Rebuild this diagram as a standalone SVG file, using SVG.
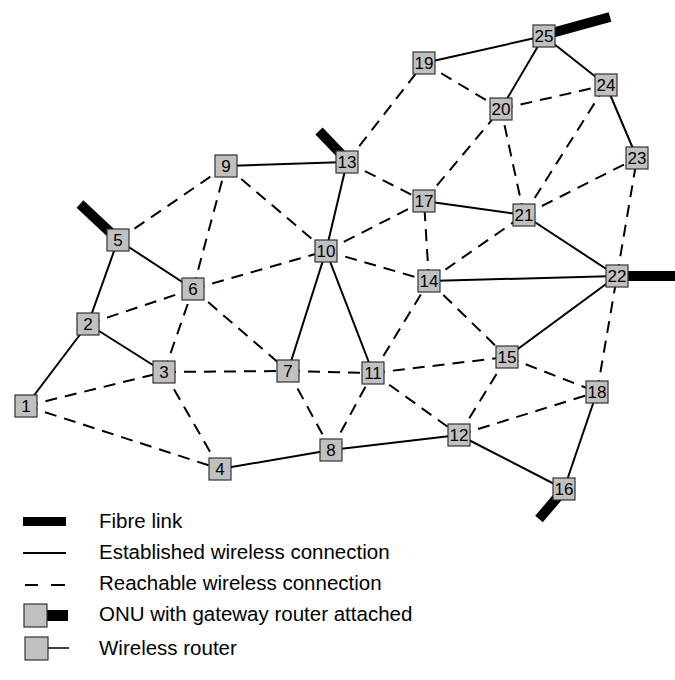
<svg xmlns="http://www.w3.org/2000/svg" width="675" height="680" viewBox="0 0 675 680">
  <style>
    .solid { stroke: #000; stroke-width: 2; fill: none; }
    .dash { stroke: #000; stroke-width: 2; fill: none; stroke-dasharray: 12 8; }
    .fibre { stroke: #000; stroke-width: 10; fill: none; stroke-linecap: butt; }
    .box { fill: #c0c0c0; stroke: #333; stroke-width: 1.2; }
    .lbl { font-family: "Liberation Sans", Arial, sans-serif; font-size: 17px; fill: #000; text-anchor: middle; }
    .leg { font-family: "Liberation Sans", Arial, sans-serif; font-size: 20.5px; fill: #000; }
  </style>
  <rect width="675" height="680" fill="#fff"/>

  <!-- fibre links to the ONUs -->
  <g id="fibre-links">
    <line class="fibre" x1="80" y1="204" x2="112" y2="234"/>
    <line class="fibre" x1="319" y1="131" x2="343" y2="156"/>
    <line class="fibre" x1="548" y1="34" x2="610" y2="17"/>
    <line class="fibre" x1="620" y1="276" x2="675" y2="276"/>
    <line class="fibre" x1="562" y1="492" x2="539" y2="519"/>
  </g>

  <!-- wireless connections -->
  <g id="connectors">
    <!-- established -->
    <line class="solid" x1="26" y1="406" x2="88" y2="324"/>
    <line class="solid" x1="88" y1="324" x2="118" y2="240"/>
    <line class="solid" x1="88" y1="324" x2="164" y2="372"/>
    <line class="solid" x1="118" y1="240" x2="193" y2="289"/>
    <line class="solid" x1="226" y1="166" x2="347" y2="162"/>
    <line class="solid" x1="347" y1="162" x2="326" y2="251"/>
    <line class="solid" x1="326" y1="251" x2="288" y2="371"/>
    <line class="solid" x1="326" y1="251" x2="373" y2="373"/>
    <line class="solid" x1="220" y1="469" x2="331" y2="450"/>
    <line class="solid" x1="331" y1="450" x2="459" y2="435"/>
    <line class="solid" x1="459" y1="435" x2="564" y2="489"/>
    <line class="solid" x1="564" y1="489" x2="597" y2="392"/>
    <line class="solid" x1="507" y1="357" x2="617" y2="276"/>
    <line class="solid" x1="429" y1="281" x2="617" y2="276"/>
    <line class="solid" x1="424" y1="201" x2="524" y2="215"/>
    <line class="solid" x1="524" y1="215" x2="617" y2="276"/>
    <line class="solid" x1="424" y1="63" x2="544" y2="36"/>
    <line class="solid" x1="544" y1="36" x2="501" y2="109"/>
    <line class="solid" x1="544" y1="36" x2="606" y2="85"/>
    <line class="solid" x1="606" y1="85" x2="637" y2="158"/>
    <!-- reachable -->
    <line class="dash" x1="26" y1="406" x2="164" y2="372"/>
    <line class="dash" x1="26" y1="406" x2="220" y2="469"/>
    <line class="dash" x1="164" y1="372" x2="220" y2="469"/>
    <line class="dash" x1="164" y1="372" x2="193" y2="289"/>
    <line class="dash" x1="164" y1="372" x2="288" y2="371"/>
    <line class="dash" x1="88" y1="324" x2="193" y2="289"/>
    <line class="dash" x1="193" y1="289" x2="326" y2="251"/>
    <line class="dash" x1="193" y1="289" x2="226" y2="166"/>
    <line class="dash" x1="193" y1="289" x2="288" y2="371"/>
    <line class="dash" x1="118" y1="240" x2="226" y2="166"/>
    <line class="dash" x1="226" y1="166" x2="326" y2="251"/>
    <line class="dash" x1="288" y1="371" x2="373" y2="373"/>
    <line class="dash" x1="288" y1="371" x2="331" y2="450"/>
    <line class="dash" x1="331" y1="450" x2="373" y2="373"/>
    <line class="dash" x1="373" y1="373" x2="429" y2="281"/>
    <line class="dash" x1="373" y1="373" x2="507" y2="357"/>
    <line class="dash" x1="373" y1="373" x2="459" y2="435"/>
    <line class="dash" x1="326" y1="251" x2="429" y2="281"/>
    <line class="dash" x1="326" y1="251" x2="424" y2="201"/>
    <line class="dash" x1="347" y1="162" x2="424" y2="201"/>
    <line class="dash" x1="347" y1="162" x2="424" y2="63"/>
    <line class="dash" x1="429" y1="281" x2="424" y2="201"/>
    <line class="dash" x1="429" y1="281" x2="524" y2="215"/>
    <line class="dash" x1="429" y1="281" x2="507" y2="357"/>
    <line class="dash" x1="507" y1="357" x2="459" y2="435"/>
    <line class="dash" x1="507" y1="357" x2="597" y2="392"/>
    <line class="dash" x1="459" y1="435" x2="597" y2="392"/>
    <line class="dash" x1="597" y1="392" x2="617" y2="276"/>
    <line class="dash" x1="617" y1="276" x2="637" y2="158"/>
    <line class="dash" x1="524" y1="215" x2="637" y2="158"/>
    <line class="dash" x1="524" y1="215" x2="606" y2="85"/>
    <line class="dash" x1="524" y1="215" x2="501" y2="109"/>
    <line class="dash" x1="424" y1="201" x2="501" y2="109"/>
    <line class="dash" x1="501" y1="109" x2="606" y2="85"/>
    <line class="dash" x1="424" y1="63" x2="501" y2="109"/>
  </g>

  <!-- routers -->
  <g id="n1"><rect class="box" x="15" y="395" width="22" height="22"/><text class="lbl" x="26" y="412">1</text></g>
  <g id="n2"><rect class="box" x="77" y="313" width="22" height="22"/><text class="lbl" x="88" y="330">2</text></g>
  <g id="n3"><rect class="box" x="153" y="361" width="22" height="22"/><text class="lbl" x="164" y="378">3</text></g>
  <g id="n4"><rect class="box" x="209" y="458" width="22" height="22"/><text class="lbl" x="220" y="475">4</text></g>
  <g id="n5"><rect class="box" x="107" y="229" width="22" height="22"/><text class="lbl" x="118" y="246">5</text></g>
  <g id="n6"><rect class="box" x="182" y="278" width="22" height="22"/><text class="lbl" x="193" y="295">6</text></g>
  <g id="n7"><rect class="box" x="277" y="360" width="22" height="22"/><text class="lbl" x="288" y="377">7</text></g>
  <g id="n8"><rect class="box" x="320" y="439" width="22" height="22"/><text class="lbl" x="331" y="456">8</text></g>
  <g id="n9"><rect class="box" x="215" y="155" width="22" height="22"/><text class="lbl" x="226" y="172">9</text></g>
  <g id="n10"><rect class="box" x="315" y="240" width="22" height="22"/><text class="lbl" x="326" y="257">10</text></g>
  <g id="n11"><rect class="box" x="362" y="362" width="22" height="22"/><text class="lbl" x="373" y="379">11</text></g>
  <g id="n12"><rect class="box" x="448" y="424" width="22" height="22"/><text class="lbl" x="459" y="441">12</text></g>
  <g id="n13"><rect class="box" x="336" y="151" width="22" height="22"/><text class="lbl" x="347" y="168">13</text></g>
  <g id="n14"><rect class="box" x="418" y="270" width="22" height="22"/><text class="lbl" x="429" y="287">14</text></g>
  <g id="n15"><rect class="box" x="496" y="346" width="22" height="22"/><text class="lbl" x="507" y="363">15</text></g>
  <g id="n16"><rect class="box" x="553" y="478" width="22" height="22"/><text class="lbl" x="564" y="495">16</text></g>
  <g id="n17"><rect class="box" x="413" y="190" width="22" height="22"/><text class="lbl" x="424" y="207">17</text></g>
  <g id="n18"><rect class="box" x="586" y="381" width="22" height="22"/><text class="lbl" x="597" y="398">18</text></g>
  <g id="n19"><rect class="box" x="413" y="52" width="22" height="22"/><text class="lbl" x="424" y="69">19</text></g>
  <g id="n20"><rect class="box" x="490" y="98" width="22" height="22"/><text class="lbl" x="501" y="115">20</text></g>
  <g id="n21"><rect class="box" x="513" y="204" width="22" height="22"/><text class="lbl" x="524" y="221">21</text></g>
  <g id="n22"><rect class="box" x="606" y="265" width="22" height="22"/><text class="lbl" x="617" y="282">22</text></g>
  <g id="n23"><rect class="box" x="626" y="147" width="22" height="22"/><text class="lbl" x="637" y="164">23</text></g>
  <g id="n24"><rect class="box" x="595" y="74" width="22" height="22"/><text class="lbl" x="606" y="91">24</text></g>
  <g id="n25"><rect class="box" x="533" y="25" width="22" height="22"/><text class="lbl" x="544" y="42">25</text></g>

  <!-- legend -->
  <g id="legend">
    <rect x="23" y="517" width="43" height="9" fill="#000"/>
    <text class="leg" x="99" y="528">Fibre link</text>
    <line class="solid" x1="23" y1="553" x2="66" y2="553"/>
    <text class="leg" x="99" y="559">Established wireless connection</text>
    <line x1="25" y1="585" x2="38" y2="585" stroke="#000" stroke-width="2"/>
    <line x1="51" y1="585" x2="65" y2="585" stroke="#000" stroke-width="2"/>
    <text class="leg" x="99" y="590">Reachable wireless connection</text>
    <rect x="47" y="610" width="21" height="11" fill="#000"/>
    <rect class="box" x="24" y="604" width="23" height="23"/>
    <text class="leg" x="99" y="621">ONU with gateway router attached</text>
    <line x1="47" y1="648" x2="69" y2="648" stroke="#000" stroke-width="1.5"/>
    <rect class="box" x="25" y="637" width="23" height="23"/>
    <text class="leg" x="99" y="655">Wireless router</text>
  </g>
</svg>
